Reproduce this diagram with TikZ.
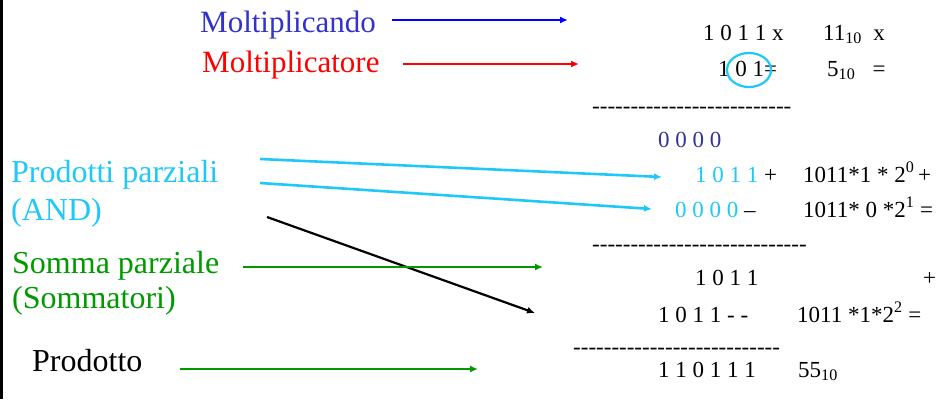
\documentclass[tikz,border=0pt]{standalone}
\usepackage{fontspec}
\setmainfont{Liberation Serif}
\usetikzlibrary{arrows.meta}
\definecolor{BluMolt}{HTML}{3333CC}
\definecolor{BluScuro}{HTML}{333399}
\definecolor{Ciano}{HTML}{1FC8F8}
\definecolor{Verde}{HTML}{009900}
\tikzset{
    etich/.style={anchor=base west, inner sep=0pt, font=\fontsize{32}{38}\selectfont},
    cifre/.style={anchor=base west, inner sep=0pt, font=\fontsize{23}{28}\selectfont},
    freccia/.style={-{Latex[length=8pt,width=7pt]}, line width=2.6pt},
}
\newcommand{\trattini}[1]{\foreach \k in {1,...,#1}{-\kern0pt}}

\begin{document}
\begin{tikzpicture}[x=1pt, y=-1pt]
                \useasboundingbox (0,0) rectangle (942,399);
                \fill[black] (0,0) rectangle (2.5,399); % bordo sinistro

                % Etichette a sinistra
                \node[etich, text=BluMolt, font=\fontsize{31}{36}\selectfont] (Mcando) at (200,32) {Moltiplicando};
                \node[etich, text=red, font=\fontsize{31}{36}\selectfont] (Mcatore) at (202,72) {Moltiplicatore};
                \node[etich, text=Ciano] (Pparz) at (11,182) {Prodotti parziali};
                \node[etich, text=Ciano] (PparzB) at (11,220) {(AND)};
                \node[etich, text=Verde] (Somma) at (12,273) {Somma parziale};
                \node[etich, text=Verde] (SommaB) at (12,308) {(Sommatori)};
                \node[etich] (Prod) at (32,371) {Prodotto};

                % Operandi
                \node[cifre] (Op1) at (703,40) {1 0 1 1 x};
                \node[cifre] (Op1d) at (823,40) {11\textsubscript{10}\ \ x};
                \node[cifre] (Op2) at (718,76) {1 0 1=};
                \node[cifre] (Op2d) at (827,76) {5\textsubscript{10}\ \ \ =};
                \draw[Ciano, line width=2.2pt] (749,70) ellipse [x radius=22pt, y radius=17pt];
                \node[cifre] (Tr1) at (592,113) {\trattini{26}};

                % Prodotti parziali
                \node[cifre, text=BluScuro] (P0) at (658,147) {0 0 0 0};
                \node[cifre] (P1) at (695,182) {\textcolor{Ciano}{1 0 1 1} +};
                \node[cifre] (P1d) at (803,182) {1011*1 * 2\textsuperscript{0}\,+};
                \node[cifre] (P2) at (675,217) {\textcolor{Ciano}{0 0 0 0} \textendash};
                \node[cifre] (P2d) at (803,217) {1011* 0 *2\textsuperscript{1} =};
                \node[cifre] (Tr2) at (592,251) {\trattini{28}};

                % Somma parziale e prodotto
                \node[cifre] (S1) at (695,285) {1 0 1 1};
                \node[cifre] (S1d) at (923,285) {+};
                \node[cifre] (S2) at (658,322) {1 0 1 1 - -};
                \node[cifre] (S2d) at (797,322) {1011 *1*2\textsuperscript{2} =};
                \node[cifre] (Tr3) at (573,354) {\trattini{27}};
                \node[cifre] (Ris) at (658,377) {1 1 0 1 1 1};
                \node[cifre] (Risd) at (798,377) {55\textsubscript{10}};

                % Estremi delle frecce
                \coordinate (A1) at (392,20);  \coordinate (B1) at (568,20);
                \coordinate (A2) at (403,64);  \coordinate (B2) at (579,64);
                \coordinate (A3) at (260,159); \coordinate (B3) at (662,177);
                \coordinate (A4) at (260,183); \coordinate (B4) at (652,209);
                \coordinate (A5) at (267,217); \coordinate (B5) at (535,313);
                \coordinate (A6) at (243,267); \coordinate (B6) at (543,267);
                \coordinate (A7) at (180,369); \coordinate (B7) at (478,369);

                \draw[freccia, blue] (A1) -- (B1);
                \draw[freccia, red] (A2) -- (B2);
                \draw[freccia, Ciano] (A3) -- (B3);
                \draw[freccia, Ciano] (A4) -- (B4);
                \draw[freccia, black, line width=2.2pt] (A5) -- (B5);
                \draw[freccia, Verde] (A6) -- (B6);
                \draw[freccia, Verde] (A7) -- (B7);
\end{tikzpicture}
\end{document}
